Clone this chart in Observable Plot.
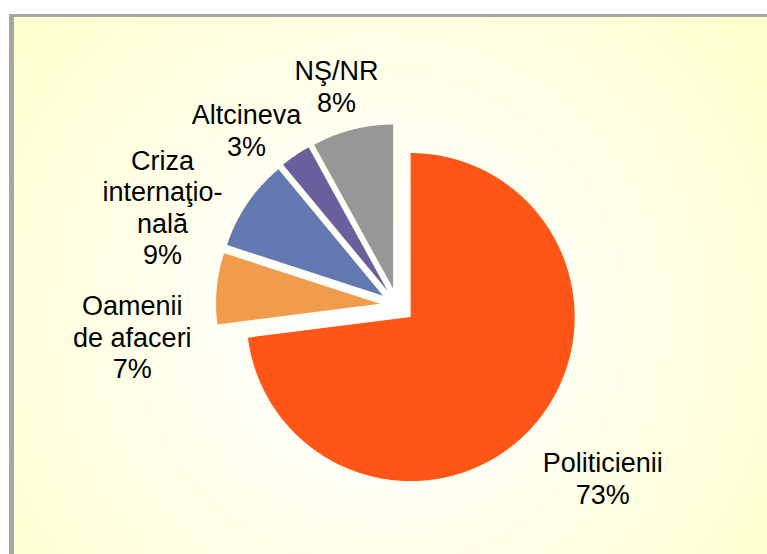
<!DOCTYPE html>
<html>
<head>
<meta charset="utf-8">
<script src="https://cdn.jsdelivr.net/npm/d3@7"></script>
<script src="https://cdn.jsdelivr.net/npm/@observablehq/plot@0.6"></script>
<style>
  html, body { margin: 0; padding: 0; background: #ffffff; }
  #chart svg { display: block; }
</style>
</head>
<body>
<div id="chart"></div>
<script>
// ---- data ----
const categories = ["Politicienii", "Oamenii de afaceri", "Criza internaţională", "Altcineva", "NŞ/NR"];
const labelTexts = ["Politicienii", "Oamenii\nde afaceri", "Criza\ninternaţio-\nnală", "Altcineva", "NŞ/NR"];
const values = [73, 7, 9, 3, 8];
const colors = ["#FF5516", "#F09C4C", "#6479B2", "#6A5E9C", "#979797"];

// ---- layout ----
const W = 767, H = 554;
const cx = 397, cy = 305;     // pie centre before explosion
const R = 164;                // radius
const explode = 17.5;         // offset of every slice along its bisector
const labelPolar = [[130, 268], [263.3, 267], [292.8, 255], [319.3, 231.5], [344.5, 228]]; // [deg, px] from centre
const fontSize = 27;

const total = d3.sum(values);
const toXY = (deg, r, ox, oy) => {
  const a = deg * Math.PI / 180;
  return [ox + r * Math.sin(a), oy - r * Math.cos(a)];
};

let start = 0;
const slicePts = [];
const labels = [];
categories.forEach((name, i) => {
  const span = values[i] / total * 360;
  const end = start + span;
  const mid = (start + end) / 2;
  const [ox, oy] = toXY(mid, explode, cx, cy);
  const color = colors[i];
  slicePts.push({name, color, x: ox, y: oy});
  const n = Math.max(2, Math.ceil(span / 0.5));
  for (let k = 0; k <= n; k++) {
    const [x, y] = toXY(start + span * k / n, R, ox, oy);
    slicePts.push({name, color, x, y});
  }
  slicePts.push({name, color, x: ox, y: oy});
  const [lx, ly] = toXY(labelPolar[i][0], labelPolar[i][1], cx, cy);
  labels.push({text: labelTexts[i] + "\n" + values[i] + "%", x: lx, y: ly});
  start = end;
});

const svg = Plot.plot({
  width: W,
  height: H,
  margin: 0,
  x: {domain: [0, W], range: [0, W], axis: null},
  y: {domain: [0, H], range: [0, H], axis: null},
  style: {background: "transparent"},
  marks: [
    Plot.rect([{x1: 14, x2: W, y1: 17, y2: H}], {x1: "x1", x2: "x2", y1: "y1", y2: "y2", fill: "url(#bgGrad)"}),
    Plot.rect([{x1: 9, x2: 14, y1: 14, y2: H}], {x1: "x1", x2: "x2", y1: "y1", y2: "y2", fill: "#A6A6A6"}),
    Plot.rect([{x1: 9, x2: W, y1: 14, y2: 17}], {x1: "x1", x2: "x2", y1: "y1", y2: "y2", fill: "#A6A6A6"}),
    Plot.line(slicePts, {x: "x", y: "y", z: "name", fill: "color", stroke: null, curve: "linear"}),
    Plot.text(labels, {
      x: "x", y: "y", text: "text",
      fontSize, fontFamily: "'Liberation Sans', Arial, sans-serif",
      fill: "#000", lineHeight: 1.167, textAnchor: "middle", lineAnchor: "middle"
    })
  ]
});

const defs = d3.select(svg).insert("defs", ":first-child");
const grad = defs.append("radialGradient")
  .attr("id", "bgGrad")
  .attr("gradientUnits", "userSpaceOnUse")
  .attr("cx", 380).attr("cy", 320).attr("r", 480);
grad.append("stop").attr("offset", "0").attr("stop-color", "#FFFFFF");
grad.append("stop").attr("offset", "0.3").attr("stop-color", "#FFFFF6");
grad.append("stop").attr("offset", "1").attr("stop-color", "#FFFFCC");

document.getElementById("chart").appendChild(svg);
</script>
</body>
</html>
